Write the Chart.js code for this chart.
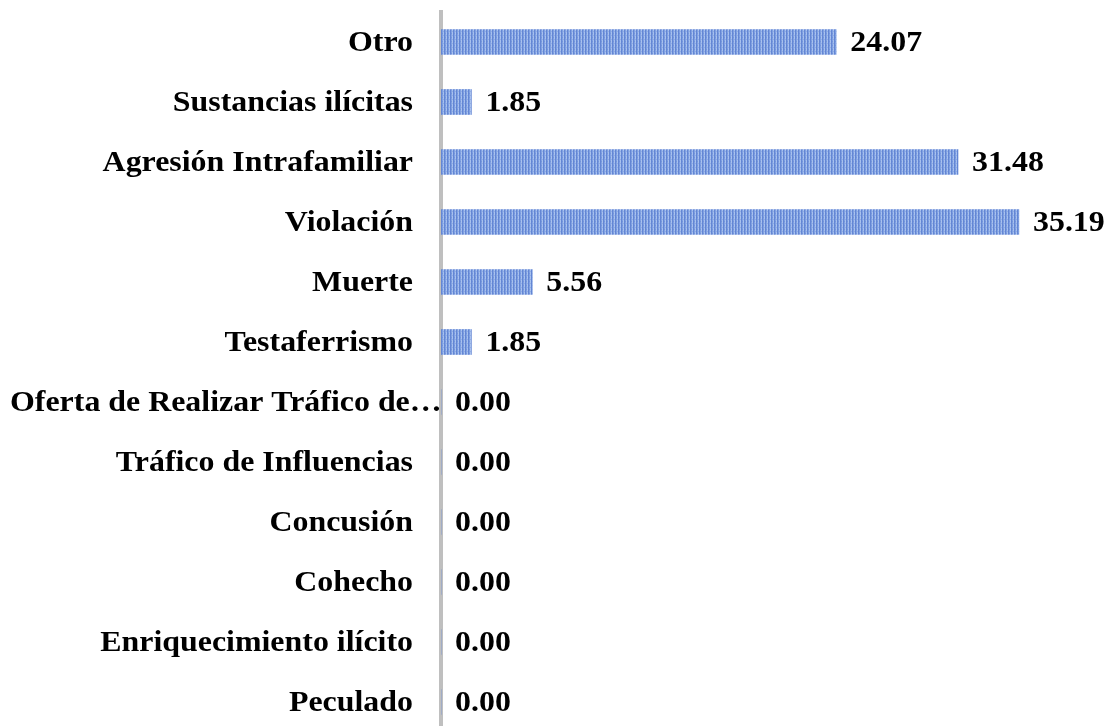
<!DOCTYPE html>
<html>
<head>
<meta charset="utf-8">
<script src="https://cdn.jsdelivr.net/npm/chart.js@4/dist/chart.umd.min.js"></script>
<style>
    html, body { margin: 0; padding: 0; background: #fff; overflow: hidden; }
    #wrap { position: relative; width: 1110px; height: 732px; }
</style>
</head>
<body>
<div id="wrap"><canvas id="delitos"></canvas></div>
<script>
var categorias = ["Otro", "Sustancias ilícitas", "Agresión Intrafamiliar", "Violación", "Muerte", "Testaferrismo",
    "Oferta de Realizar Tráfico de Influencias", "Tráfico de Influencias", "Concusión", "Cohecho",
    "Enriquecimiento ilícito", "Peculado"];
var porcentajes = [24.07, 1.85, 31.48, 35.19, 5.56, 1.85, 0, 0, 0, 0, 0, 0];

var FONT = "bold 29px 'Liberation Serif', 'Times New Roman', serif";
var SX = 1.1; // the reference text is a bit stretched sideways

window.addEventListener("load", init);

function makePattern() {
    const c = document.createElement("canvas");
    c.width = 3;
    c.height = 4;
    const g = c.getContext("2d");
    const cols = ["#6386d4", "#80a1e2", "#a8c1ee"];
    for (let x = 0; x < 3; x++) {
        g.fillStyle = cols[x];
        g.fillRect(x, 0, 1, 4);
    }
    g.fillStyle = "rgba(80,115,200,0.25)";
    g.fillRect(1, 1, 1, 1);
    g.fillRect(2, 3, 1, 1);
    return g.createPattern(c, "repeat");
}

function drawText(ctx, text, x, y, align) {
    ctx.save();
    ctx.scale(SX, 1);
    ctx.textAlign = align;
    ctx.fillText(text, x / SX, y);
    ctx.restore();
}

const textos = {
    id: "textos",
    afterDatasetsDraw(chart) {
        const ctx = chart.ctx;
        const meta = chart.getDatasetMeta(0);
        const yScale = chart.scales.y;
        ctx.save();
        ctx.font = FONT;
        ctx.fillStyle = "#000";
        ctx.textBaseline = "middle";
        categorias.forEach(function (cat, i) {
            const y = yScale.getPixelForValue(i) + 2;
            let label = cat;
            const labelRight = chart.chartArea.left - 28;
            if (ctx.measureText(label).width * SX > labelRight - 10) {
                while (ctx.measureText(label + "…").width * SX > 437 && label.length > 1) {
                    label = label.slice(0, -1);
                }
                label = label.trimEnd() + "…";
                drawText(ctx, label, 10, y, "left");
            } else {
                drawText(ctx, label, labelRight, y, "right");
            }
            const bar = meta.data[i];
            drawText(ctx, porcentajes[i].toFixed(2), bar.x + 14, y, "left");
        });
        ctx.restore();
    }
};

function init() {
    const data = {
        labels: categorias,
        datasets: [
            {
                label: "Porcentaje",
                data: porcentajes,
                backgroundColor: makePattern(),
                borderWidth: 0,
                barThickness: 25,
            }
        ]
    };

    const config = {
        type: "bar",
        data: data,
        options: {
            indexAxis: "y",
            responsive: true,
            maintainAspectRatio: false,
            animation: false,
            layout: {
                padding: { top: 12, right: 12, left: 0, bottom: 0 }
            },
            scales: {
                x: {
                    display: false,
                    min: 0,
                    max: 40,
                },
                y: {
                    grid: { display: false },
                    border: { display: true, color: "#bfbfbf", width: 4 },
                    ticks: { display: false },
                    afterFit: function (scale) { scale.width = 441; }
                }
            },
            plugins: {
                legend: { display: false },
                tooltip: { enabled: false },
                title: { display: false }
            }
        },
        plugins: [textos]
    };
    const delitosChart = new Chart(document.getElementById("delitos"), config);
}
</script>
</body>
</html>
